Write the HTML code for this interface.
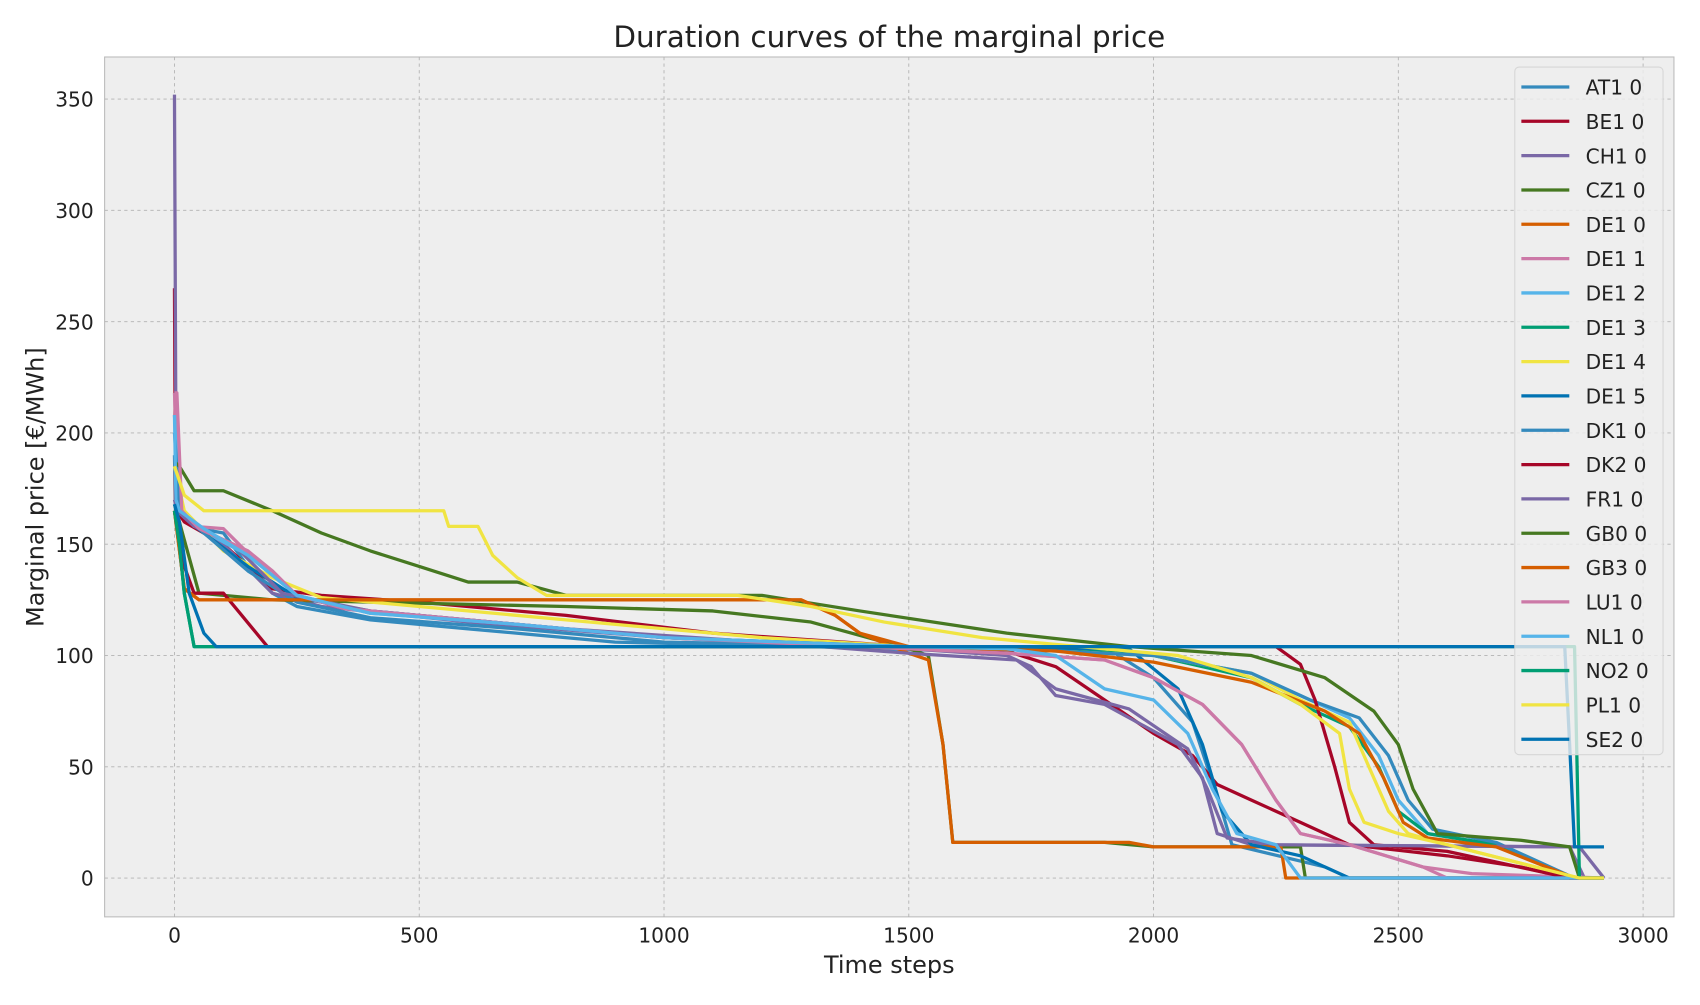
<!DOCTYPE html>
<html><head><meta charset="utf-8"><style>
body{margin:0;background:#fff;font-family:"Liberation Sans","DejaVu Sans",sans-serif;overflow:hidden}
svg text{font-family:"DejaVu Sans","Liberation Sans",sans-serif}
</style></head><body>
<svg id="c" width="1700" height="1000" xmlns="http://www.w3.org/2000/svg">
<rect x="0" y="0" width="1700" height="1000" fill="#fff"/>
<g transform="scale(1.0898)">
<rect x="96" y="52.3" width="1440" height="789" fill="#eeeeee" stroke="#bcbcbc"/>
<g id="grid"></g><g id="lines"></g><g id="ticks"></g>
<text x="816" y="43" font-size="27" text-anchor="middle" fill="#222">Duration curves of the marginal price</text>
<text x="816" y="893" font-size="22" text-anchor="middle" fill="#222">Time steps</text>
<text transform="translate(40,447) rotate(-90)" font-size="22" text-anchor="middle" fill="#222">Marginal price [€/MWh]</text>
<g id="legend"></g>
</g>
</svg>
<script>
const xTicks=[0,500,1000,1500,2000,2500,3000];
const yTicks=[0,50,100,150,200,250,300,350];
const names=["AT1 0","BE1 0","CH1 0","CZ1 0","DE1 0","DE1 1","DE1 2","DE1 3","DE1 4","DE1 5","DK1 0","DK2 0","FR1 0","GB0 0","GB3 0","LU1 0","NL1 0","NO2 0","PL1 0","SE2 0"];
const colors=["#348ABD","#A60628","#7A68A6","#467821","#D55E00","#CC79A7","#56B4E9","#009E73","#F0E442","#0072B2","#348ABD","#A60628","#7A68A6","#467821","#D55E00","#CC79A7","#56B4E9","#009E73","#F0E442","#0072B2"];
const xsAT1=[0,2,50,100,150,200,250,400,600,900,1300,1600,1900,2000,2080,2110,2140,2160,2350,2400,2920];
const ysAT1=[190,165,157,155,140,128,122,116,112,106,104,102,104,90,70,50,30,15,5,0,0];
const xsBE1=[0,2,5,20,100,200,300,500,800,1100,1500,1700,1800,1900,2000,2080,2130,2200,2300,2400,2600,2750,2850,2920];
const ysBE1=[265,170,165,160,150,130,127,124,118,110,104,102,95,80,65,55,42,35,25,15,10,5,0,0];
const xsCH1=[0,3,6,30,100,200,300,600,1000,1500,1700,1750,1800,1900,2050,2100,2130,2200,2850,2880,2920];
const ysCH1=[352,200,165,160,150,128,122,115,108,103,100,95,82,78,60,45,20,15,14,0,0];
const xsCZ1=[0,10,50,200,400,800,1100,1300,1500,1540,1570,1590,1900,2000,2300,2310,2920];
const ysCZ1=[168,160,128,125,124,122,120,115,103,100,60,16,16,14,14,0,0];
const xsDE10=[0,20,50,1280,1350,1400,1500,1540,1570,1590,1950,2000,2260,2270,2920];
const ysDE10=[165,130,125,125,118,110,101,98,60,16,16,14,14,0,0];
const xsDE11=[0,10,40,100,150,200,250,350,600,1000,1500,1700,1900,2000,2100,2180,2250,2300,2400,2550,2650,2920];
const ysDE11=[218,165,158,157,146,138,127,121,116,108,103,101,98,90,78,60,35,20,15,5,2,0];
const xsDE12=[0,10,50,150,250,400,700,1000,1500,1800,2000,2200,2300,2400,2460,2500,2560,2700,2860,2920];
const ysDE12=[208,165,157,145,127,119,114,108,104,102,100,92,82,72,55,35,20,15,0,0];
const xsDE13=[0,10,20,40,1000,1500,1800,2000,2200,2300,2400,2460,2500,2560,2700,2860,2920];
const ysDE13=[165,150,128,104,104,104,103,100,90,78,68,50,30,20,15,0,0];
const xsDE14=[0,20,100,200,300,500,800,1200,1500,1800,2000,2200,2300,2400,2440,2480,2520,2600,2870,2920];
const ysDE14=[185,165,147,135,126,122,116,108,104,102,100,92,80,70,50,30,20,15,0,0];
const xsDE15=[0,10,30,150,250,400,700,1000,1500,1900,1950,2050,2100,2140,2200,2300,2400,2920];
const ysDE15=[168,164,160,140,126,120,114,108,104,103,103,85,60,30,15,10,0,0];
const xsDK1=[0,10,60,150,250,400,700,1000,1500,1800,2000,2200,2320,2420,2480,2520,2570,2700,2860,2920];
const ysDK1=[200,165,155,138,124,117,112,106,104,102,100,92,80,72,55,35,22,16,0,0];
const xsDK2=[0,20,40,100,130,160,190,2250,2300,2330,2370,2400,2450,2600,2850,2920];
const ysDK2=[165,140,128,128,120,112,104,104,96,80,50,25,15,12,0,0];
const xsFR1=[0,5,40,120,220,400,800,1200,1500,1720,1800,1950,2070,2110,2150,2250,2870,2920];
const ysFR1=[170,165,158,150,128,120,112,106,101,98,85,76,58,40,18,15,14,0];
const xsGB0=[0,10,40,100,200,300,400,500,600,700,800,1200,1400,1700,1950,2200,2350,2450,2500,2530,2580,2750,2850,2870,2920];
const ysGB0=[187,185,174,174,165,155,147,140,133,133,127,127,120,110,104,100,90,75,60,40,20,17,14,0,0];
const xsGB3=[0,20,50,1280,1350,1400,1500,1800,2000,2200,2350,2420,2470,2510,2560,2700,2860,2920];
const ysGB3=[165,130,125,125,118,110,104,102,97,88,75,65,45,25,18,14,0,0];
const xsLU1=[0,5,15,50,150,200,250,350,600,1000,1500,1700,1900,2000,2100,2180,2250,2300,2400,2550,2600,2920];
const ysLU1=[218,218,165,157,147,138,127,121,116,108,103,101,98,90,78,60,35,20,15,5,0,0];
const xsNL1=[0,3,10,60,150,250,400,700,1000,1500,1700,1800,1900,2000,2070,2120,2170,2250,2300,2920];
const ysNL1=[208,170,165,157,145,127,119,114,108,104,103,100,85,80,65,40,20,15,0,0];
const xsNO2=[0,10,20,40,2860,2870,2920];
const ysNO2=[165,150,128,104,104,0,0];
const xsPL1=[0,20,60,550,560,620,650,700,760,1150,1300,1450,1650,1850,2050,2200,2300,2380,2400,2430,2500,2600,2870,2920];
const ysPL1=[185,172,165,165,158,158,145,135,127,127,122,115,108,104,100,90,78,65,40,25,20,15,0,0];
const xsSE2=[0,10,30,60,85,2840,2850,2860,2920];
const ysSE2=[168,160,128,110,104,104,60,14,14];
const allX=[xsAT1,xsBE1,xsCH1,xsCZ1,xsDE10,xsDE11,xsDE12,xsDE13,xsDE14,xsDE15,xsDK1,xsDK2,xsFR1,xsGB0,xsGB3,xsLU1,xsNL1,xsNO2,xsPL1,xsSE2];
const allY=[ysAT1,ysBE1,ysCH1,ysCZ1,ysDE10,ysDE11,ysDE12,ysDE13,ysDE14,ysDE15,ysDK1,ysDK2,ysFR1,ysGB0,ysGB3,ysLU1,ysNL1,ysNO2,ysPL1,ysSE2];

const NS="http://www.w3.org/2000/svg";
function sx(v){return 160.1+v*0.4492;}
function sy(v){return 805.7-v*2.0423;}
const grid=document.getElementById('grid'),ticks=document.getElementById('ticks'),lines=document.getElementById('lines'),legend=document.getElementById('legend');
xTicks.forEach(t=>{
  const l=document.createElementNS(NS,'line');
  
  
  l.setAttribute('x1',sx(t));l.setAttribute('x2',sx(t));l.setAttribute('y1',52.3);l.setAttribute('y2',841.3);
  l.setAttribute('stroke','#b2b2b2');l.setAttribute('stroke-dasharray','3,3');l.setAttribute('stroke-width','0.8');
  grid.appendChild(l);
  const tx=document.createElementNS(NS,'text');
  
  
  tx.setAttribute('x',sx(t));tx.setAttribute('y',865);tx.setAttribute('font-size','18.5');tx.setAttribute('text-anchor','middle');tx.setAttribute('fill','#222');
  tx.textContent=t;ticks.appendChild(tx);
});
yTicks.forEach(t=>{
  const l=document.createElementNS(NS,'line');
  
  
  l.setAttribute('x1',96);l.setAttribute('x2',1536);l.setAttribute('y1',sy(t));l.setAttribute('y2',sy(t));
  l.setAttribute('stroke','#b2b2b2');l.setAttribute('stroke-dasharray','3,3');l.setAttribute('stroke-width','0.8');
  grid.appendChild(l);
  const tx=document.createElementNS(NS,'text');
  
  
  tx.setAttribute('x',86);tx.setAttribute('y',sy(t)+7);tx.setAttribute('font-size','18.5');tx.setAttribute('text-anchor','end');tx.setAttribute('fill','#222');
  tx.textContent=t;ticks.appendChild(tx);
});
allX.forEach((xs,i)=>{
  const ys=allY[i];
  let d='';
  for(let k=0;k<xs.length;k++){d+=(k?'L':'M')+sx(xs[k]).toFixed(1)+','+sy(ys[k]).toFixed(1);}
  const p=document.createElementNS(NS,'path');
  
  
  p.setAttribute('d',d);p.setAttribute('fill','none');p.setAttribute('stroke',colors[i]);p.setAttribute('stroke-width','3');p.setAttribute('stroke-linejoin','round');
  lines.appendChild(p);
});
const lb=document.createElementNS(NS,'rect');


lb.setAttribute('x',1390);lb.setAttribute('y',61.5);lb.setAttribute('width',136);lb.setAttribute('height',631);lb.setAttribute('rx',4);
lb.setAttribute('fill','#eeeeee');lb.setAttribute('fill-opacity','0.8');lb.setAttribute('stroke','#d6d6d6');
legend.appendChild(lb);
names.forEach((n,i)=>{
  const y=79.8+i*31.5;
  const l=document.createElementNS(NS,'line');
  
  
  l.setAttribute('x1',1396);l.setAttribute('x2',1440);l.setAttribute('y1',y);l.setAttribute('y2',y);l.setAttribute('stroke',colors[i]);l.setAttribute('stroke-width','3');
  legend.appendChild(l);
  const t=document.createElementNS(NS,'text');
  
  
  t.setAttribute('x',1455);t.setAttribute('y',y+7);t.setAttribute('font-size','18.5');t.setAttribute('fill','#222');
  t.textContent=n;legend.appendChild(t);
});
</script>
</body></html>
